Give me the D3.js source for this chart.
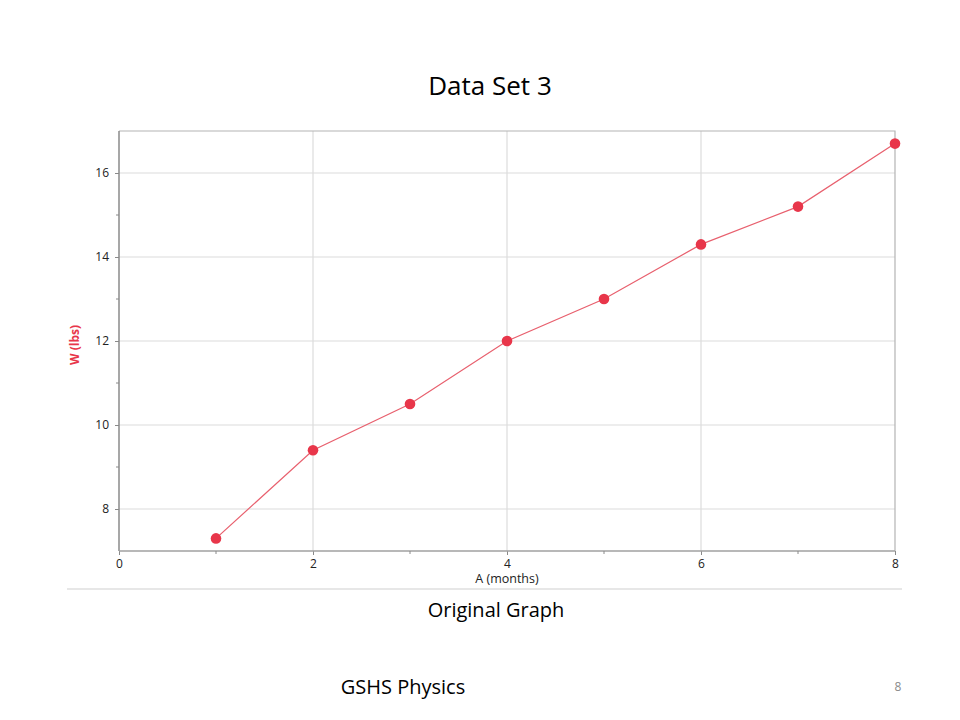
<!DOCTYPE html>
<html><head><meta charset="utf-8">
<script src="https://cdn.jsdelivr.net/npm/d3@7"></script>
<style>body{margin:0;background:#fff;} svg{display:block;}</style>
</head><body>
<svg id="c" width="960" height="720"></svg>
<script>
const months = [1,2,3,4,5,6,7,8];
const weights = [7.3,9.4,10.5,12,13,14.3,15.2,16.7];
const xTicks = [0,2,4,6,8];
const yTicks = [8,10,12,14,16];
const xMinor = [1,3,5,7];
const yMinor = [9,11,13,15];

const svg = d3.select("#c");
const x = d3.scaleLinear().domain([0,8]).range([119,895]);
const y = d3.scaleLinear().domain([8,16]).range([509,173]);
const yBottom = y(7), yTop = y(17);
const F = "Open Sans, DejaVu Sans, sans-serif";

// grid
svg.append("g").selectAll("line").data(yTicks).join("line")
  .attr("x1",x(0)).attr("x2",x(8)).attr("y1",d=>y(d)).attr("y2",d=>y(d))
  .attr("stroke","#dcdcdc").attr("stroke-width",1.2);
svg.append("g").selectAll("line").data(xTicks.filter(d=>d>0&&d<8)).join("line")
  .attr("y1",yTop).attr("y2",yBottom).attr("x1",d=>x(d)).attr("x2",d=>x(d))
  .attr("stroke","#dcdcdc").attr("stroke-width",1.2);

// frame
svg.append("path").attr("d",`M${x(0)},${yTop}H${x(8)}V${yBottom}`).attr("fill","none").attr("stroke","#b4b4b4").attr("stroke-width",1.2);

// axes
const yAxis = d3.axisLeft(y).tickValues(yTicks).tickSize(4).tickPadding(6);
const gy = svg.append("g").attr("transform",`translate(${x(0)},0)`).call(yAxis);
gy.select(".domain").remove();
gy.append("line").attr("x1",0).attr("x2",0).attr("y1",yTop).attr("y2",yBottom).attr("stroke","#8a8a8a").attr("stroke-width",1.5);
gy.selectAll(".tick line").attr("stroke","#8a8a8a");
gy.selectAll(".tick text").attr("font-family",F).attr("font-size",12).attr("fill","#222");
gy.selectAll(".minor").data(yMinor).join("line").attr("class","minor")
  .attr("x1",-3).attr("x2",0).attr("y1",d=>y(d)).attr("y2",d=>y(d)).attr("stroke","#8a8a8a");

const xAxis = d3.axisBottom(x).tickValues(xTicks).tickSize(4).tickPadding(4);
const gx = svg.append("g").attr("transform",`translate(0,${yBottom})`).call(xAxis);
gx.select(".domain").remove();
gx.append("line").attr("x1",x(0)).attr("x2",x(8)).attr("y1",0).attr("y2",0).attr("stroke","#a0a0a0").attr("stroke-width",1.5);
gx.selectAll(".tick line").attr("stroke","#8a8a8a");
gx.selectAll(".tick text").attr("font-family",F).attr("font-size",12).attr("fill","#222");
gx.selectAll(".minor").data(xMinor).join("line").attr("class","minor")
  .attr("y1",0).attr("y2",3).attr("x1",d=>x(d)).attr("x2",d=>x(d)).attr("stroke","#8a8a8a");

// line + points
const pts = months.map((m,i)=>[m,weights[i]]);
svg.append("path").datum(pts)
  .attr("d",d3.line().x(d=>x(d[0])).y(d=>y(d[1])))
  .attr("fill","none").attr("stroke","#e8606e").attr("stroke-width",1.2);
svg.append("g").selectAll("circle").data(pts).join("circle")
  .attr("cx",d=>x(d[0])).attr("cy",d=>y(d[1])).attr("r",5.3).attr("fill","#e8364a");

// labels
svg.append("text").attr("transform",`translate(79,345) rotate(-90)`).attr("text-anchor","middle")
  .attr("font-family",F).attr("font-size",12).attr("font-weight","bold").attr("fill","#e8364a").text("W (lbs)");
svg.append("text").attr("x",507).attr("y",583).attr("text-anchor","middle")
  .attr("font-family",F).attr("font-size",12.5).attr("fill","#222").text("A (months)");

// bottom rule
svg.append("line").attr("x1",67).attr("x2",902).attr("y1",589).attr("y2",589).attr("stroke","#d0d0d0").attr("stroke-width",1.2);

svg.append("text").attr("x",490).attr("y",95).attr("text-anchor","middle")
  .attr("font-family","Open Sans, sans-serif").attr("font-size",26).attr("fill","#000").text("Data Set 3");
svg.append("text").attr("x",496).attr("y",617).attr("text-anchor","middle")
  .attr("font-family","Open Sans, sans-serif").attr("font-size",20).attr("fill","#000").text("Original Graph");
svg.append("text").attr("x",403).attr("y",694).attr("text-anchor","middle")
  .attr("font-family","Open Sans, sans-serif").attr("font-size",20).attr("fill","#000").text("GSHS Physics");
svg.append("text").attr("x",898).attr("y",691).attr("text-anchor","middle")
  .attr("font-family","Open Sans, sans-serif").attr("font-size",12).attr("fill","#8a8a8a").text("8");
</script>
</body></html>
